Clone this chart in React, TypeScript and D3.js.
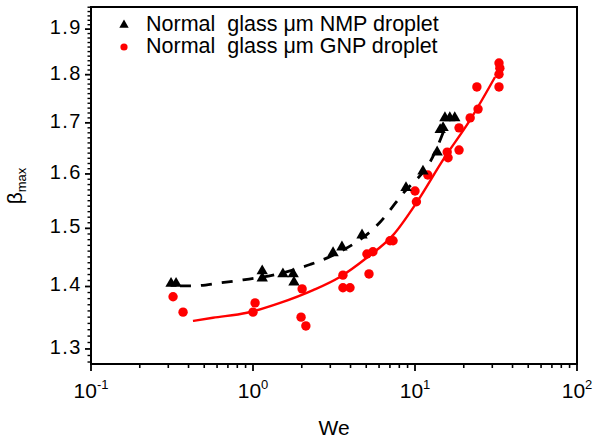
import React from "react";
import * as d3 from "d3";

const nmpWe = [0.312, 0.335, 1.14, 1.14, 1.53, 1.77, 1.79, 3.12, 3.54, 4.71, 8.8, 11.2, 13.7, 14.3, 14.9, 15.3, 16.4, 17.6];
const nmpBeta = [1.405, 1.405, 1.426, 1.414, 1.421, 1.421, 1.407, 1.457, 1.467, 1.488, 1.574, 1.605, 1.642, 1.686, 1.69, 1.71, 1.71, 1.71];

const gnpWe = [0.321, 0.37, 1.03, 1.0, 2.01, 1.98, 2.12, 3.59, 3.59, 3.97, 5.2, 5.05, 5.5, 7.01, 7.32, 10.0, 10.2, 12.0, 15.8, 16.0, 18.7, 18.7, 21.9, 24.5, 24.1, 33.0, 33.0, 33.4, 33.0];
const gnpBeta = [1.383, 1.358, 1.373, 1.358, 1.396, 1.35, 1.336, 1.419, 1.398, 1.398, 1.421, 1.455, 1.459, 1.478, 1.478, 1.568, 1.548, 1.598, 1.642, 1.631, 1.646, 1.69, 1.71, 1.728, 1.774, 1.774, 1.825, 1.814, 1.801];

const nmpFitWe = [0.354, 0.426, 0.626, 0.868, 1.33, 2.25, 3.12, 6.08, 8.2, 13.3, 15.3];
const nmpFitBeta = [1.401, 1.401, 1.406, 1.411, 1.419, 1.437, 1.453, 1.511, 1.559, 1.642, 1.69];

const gnpFitWe = [0.426, 0.566, 0.918, 1.47, 2.35, 3.44, 5.06, 7.32, 10.3, 14.9, 21.9, 31.2];
const gnpFitBeta = [1.344, 1.349, 1.357, 1.373, 1.394, 1.416, 1.449, 1.488, 1.548, 1.627, 1.706, 1.795];

const xMajor = [0.1, 1, 10, 100];
const xExp = ["-1", "0", "1", "2"];
const yMajor = [1.3, 1.4, 1.5, 1.6, 1.7, 1.8, 1.9];
const yLabels = ["1.3", "1.4", "1.5", "1.6", "1.7", "1.8", "1.9"];

const legendLabels = ["Normal  glass \u03bcm NMP droplet", "Normal  glass \u03bcm GNP droplet"];

const W = 596, H = 443;
const L = 91, R = 577, T = 7, B = 364;
const FONT = "Arial, 'Liberation Sans', Helvetica, sans-serif";
const RED = "#ff0000";

export default function App() {
  const x = d3.scaleLog().domain([0.1, 100]).range([L, R]);
  const y = d3.scaleLog().domain([1.277, 1.9505]).range([B, T]);

  const xMinor: number[] = [];
  [0.1, 1, 10].forEach((d) => {
    for (let k = 2; k <= 9; k++) xMinor.push(d * k);
  });
  const yMinor: number[] = [];
  for (let i = 128; i <= 195; i++) {
    if (i % 10 !== 0) yMinor.push(i / 100);
  }

  const line = d3
    .line<[number, number]>()
    .x((d) => x(d[0]))
    .y((d) => y(d[1]))
    .curve(d3.curveMonotoneX);

  const nmpFit = nmpFitWe.map((w, i) => [w, nmpFitBeta[i]] as [number, number]);
  const gnpFit = gnpFitWe.map((w, i) => [w, gnpFitBeta[i]] as [number, number]);

  const tri = d3.symbol().type(d3.symbolTriangle).size(56)()!;
  const triSmall = d3.symbol().type(d3.symbolTriangle).size(38)()!;

  return (
    <div style={{ position: "fixed", left: 0, top: 0, width: W, height: H, background: "#fff" }}>
      <svg width={W} height={H} style={{ display: "block" }} fontFamily={FONT}>
        <rect x={0} y={0} width={W} height={H} fill="#fff" />

        {/* fit lines */}
        <path d={line(nmpFit) || ""} fill="none" stroke="#000" strokeWidth={2.8} strokeDasharray="11,10" />
        <path d={line(gnpFit) || ""} fill="none" stroke={RED} strokeWidth={2.4} />

        {/* data */}
        {gnpWe.map((w, i) => (
          <circle key={"g" + i} cx={x(w)} cy={y(gnpBeta[i])} r={4.7} fill={RED} />
        ))}
        {nmpWe.map((w, i) => (
          <path key={"n" + i} d={tri} transform={`translate(${x(w)},${y(nmpBeta[i])})`} fill="#000" />
        ))}

        {/* frame */}
        <rect x={L} y={T} width={R - L} height={B - T} fill="none" stroke="#000" strokeWidth={2} />

        {/* x ticks */}
        {xMinor.map((d, i) => (
          <line key={"xm" + i} x1={x(d)} x2={x(d)} y1={B} y2={B + 4} stroke="#000" strokeWidth={1.6} />
        ))}
        {xMajor.map((d, i) => (
          <g key={"xM" + i}>
            <line x1={x(d)} x2={x(d)} y1={B} y2={B + 7} stroke="#000" strokeWidth={1.8} />
            <text x={x(d)} y={398} textAnchor="middle" fontSize={21} fill="#000">
              10
              <tspan fontSize={13} dy={-9}>{xExp[i]}</tspan>
            </text>
          </g>
        ))}

        {/* y ticks */}
        {yMinor.map((d, i) => (
          <line key={"ym" + i} x1={L - 3.5} x2={L} y1={y(d)} y2={y(d)} stroke="#000" strokeWidth={1.4} />
        ))}
        {yMajor.map((d, i) => (
          <g key={"yM" + i}>
            <line x1={L - 6} x2={L} y1={y(d)} y2={y(d)} stroke="#000" strokeWidth={1.8} />
            <text x={82} y={y(d) + 5} textAnchor="end" fontSize={20} fill="#000" letterSpacing={1.5}>
              {yLabels[i]}
            </text>
          </g>
        ))}

        {/* axis titles */}
        <text x={(L + R) / 2} y={435} textAnchor="middle" fontSize={21} fill="#000">
          We
        </text>
        <text transform="translate(22,186) rotate(-90)" textAnchor="middle" fontSize={21} fill="#000">
          {"\u03b2"}
          <tspan fontSize={13} dy={4}>max</tspan>
        </text>

        {/* legend */}
        <path d={triSmall} transform="translate(124,25)" fill="#000" />
        <circle cx={124} cy={47} r={3.6} fill={RED} />
        {legendLabels.map((t, i) => (
          <text key={"l" + i} x={146} y={31 + i * 22} fontSize={21.5} fill="#000" style={{ whiteSpace: "pre" }}>
            {t}
          </text>
        ))}
      </svg>
    </div>
  );
}
